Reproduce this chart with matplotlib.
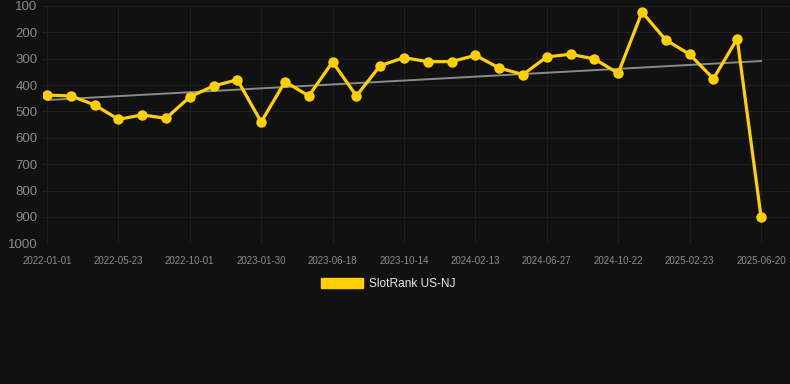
import numpy as np
import matplotlib
matplotlib.use("Agg")
import matplotlib.pyplot as plt
from matplotlib.patches import Patch

plt.rcParams['font.family'] = ['Liberation Sans', 'DejaVu Sans']

dates = ["2022-01-01", "2022-02-17", "2022-04-05", "2022-05-23", "2022-07-05",
         "2022-08-18", "2022-10-01", "2022-11-10", "2022-12-20", "2023-01-30",
         "2023-03-17", "2023-05-02", "2023-06-18", "2023-07-27", "2023-09-05",
         "2023-10-14", "2023-11-24", "2024-01-03", "2024-02-13", "2024-03-29",
         "2024-05-13", "2024-06-27", "2024-08-05", "2024-09-13", "2024-10-22",
         "2024-12-02", "2025-01-12", "2025-02-23", "2025-04-05", "2025-05-13",
         "2025-06-20"]
ranks = [438, 441, 475, 530, 513, 526, 445, 403, 380, 540,
         387, 441, 312, 441, 326, 296, 311, 311, 287, 335,
         360, 293, 283, 301, 355, 123, 229, 283, 376, 224,
         899]
series_name = "SlotRank US-NJ"
y_ticks = [100, 200, 300, 400, 500, 600, 700, 800, 900, 1000]

bg = "#111111"
gold = "#FFD000"

fig = plt.figure(figsize=(7.9, 3.84), dpi=100, facecolor=bg)
ax = fig.add_axes([43/790, 1 - 243.3/384, 1 - 43/790, (243.3 - 6)/384])
ax.set_facecolor(bg)

x = np.arange(len(dates))
coef = np.polyfit(x, ranks, 1)
ax.plot(x, np.polyval(coef, x), color="#8a8a8a", lw=1.4, zorder=2)
ax.plot(x, ranks, color=gold, lw=2.3, marker='o', markersize=7.5,
        markeredgewidth=0, zorder=3)

ax.set_ylim(1000, 100)
ax.set_yticks(y_ticks)
ax.set_xlim(-4/23.8, 30 + 29/23.8)
ax.set_xticks(x[::3])
ax.set_xticklabels([dates[i] for i in x[::3]])

ax.grid(True, color="#1f1f1f", lw=0.8)
ax.set_axisbelow(True)
for s in ax.spines.values():
    s.set_visible(False)
ax.tick_params(axis='both', length=0, colors="#8c8c8c")
ax.tick_params(axis='y', labelsize=9.5, pad=4)
ax.tick_params(axis='x', labelsize=7, pad=9)

handle = Patch(facecolor=gold, edgecolor=gold)
leg = fig.legend([handle], [series_name], loc='center',
                 bbox_to_anchor=(388/790, 1 - 284/384), frameon=False,
                 fontsize=8.6, handlelength=3.5, handleheight=0.95,
                 handletextpad=0.5)
for t in leg.get_texts():
    t.set_color("#e6e6e6")

fig.savefig("out.png", dpi=100, facecolor=bg)
